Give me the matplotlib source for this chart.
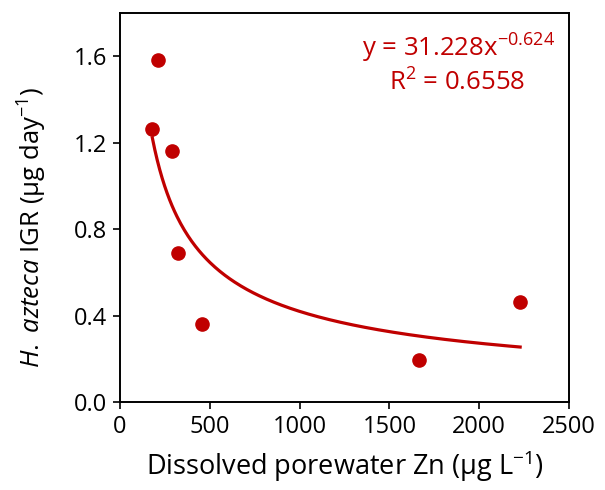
import numpy as np
import matplotlib.pyplot as plt

plt.rcParams['font.family'] = ['Open Sans', 'DejaVu Sans']
plt.rcParams['mathtext.fontset'] = 'custom'
plt.rcParams['mathtext.rm'] = 'Open Sans'
plt.rcParams['mathtext.it'] = 'Open Sans:italic'

# Data
zn = [180, 211, 287, 322, 459, 1665, 2228]
igr = [1.264, 1.583, 1.162, 0.688, 0.361, 0.194, 0.464]

# Power trendline shown on the chart
coef_a = 31.228
coef_b = -0.624

red = '#C00000'

fig = plt.figure(figsize=(6.05, 4.9), dpi=100)
ax = fig.add_axes([120/605, 88/490, 449/605, 389/490])

xs = np.linspace(min(zn), max(zn), 300)
ax.plot(xs, coef_a * xs**coef_b, color=red, lw=2.3)
ax.plot(zn, igr, 'o', color=red, ms=9.5, mec=red)

ax.set_xlim(0, 2500)
ax.set_ylim(0, 1.8)
ax.set_xticks([0, 500, 1000, 1500, 2000, 2500])
ax.set_yticks([0.0, 0.4, 0.8, 1.2, 1.6])
ax.set_yticklabels(['0.0', '0.4', '0.8', '1.2', '1.6'])
ax.tick_params(direction='out', length=5, width=1.2, labelsize=17, colors='black', pad=4)
for s in ax.spines.values():
    s.set_linewidth(1.4)

ax.set_xlabel('Dissolved porewater Zn (μg L$^{-1}$)', fontsize=19.5, labelpad=7)
ax.set_ylabel('$\\mathit{H.}$ $\\mathit{azteca}$ IGR (μg day$^{-1}$)', fontsize=18.5)
ax.yaxis.set_label_coords(-0.158, 0.45)

ax.text(0.968, 0.91, 'y = 31.228x$^{-0.624}$', transform=ax.transAxes,
        ha='right', va='center', color=red, fontsize=18.5)
ax.text(0.75, 0.82, 'R$^2$ = 0.6558', transform=ax.transAxes,
        ha='center', va='center', color=red, fontsize=18.5)

fig.savefig('out.png', dpi=100)
